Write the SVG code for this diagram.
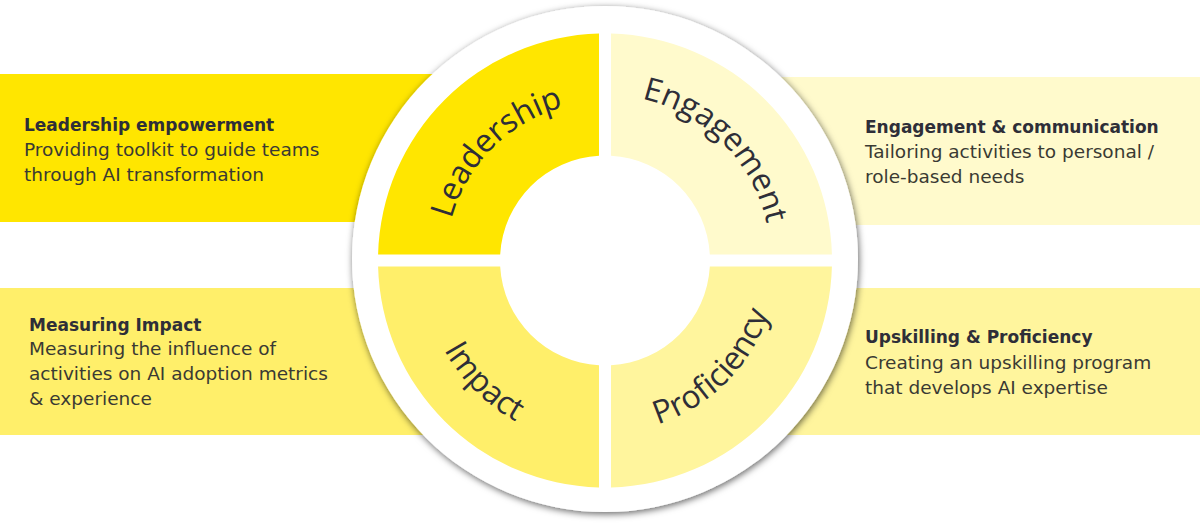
<svg xmlns="http://www.w3.org/2000/svg" width="1200" height="527" viewBox="0 0 1200 527">
  <style>
    .head { font-family: "DejaVu Sans", "Liberation Sans", sans-serif; font-weight: bold; font-size: 17px; fill: #2e2e38; }
    .body { font-family: "DejaVu Sans", "Liberation Sans", sans-serif; font-size: 18.5px; fill: #3a3a33; }
    .ring { font-family: "Open Sans", "Noto Sans", sans-serif; font-size: 32px; fill: #2e2e38; }
    .c1 { fill: #FFE600; }
    .c2 { fill: #FFFACC; }
    .c3 { fill: #FFEF6A; }
    .c4 { fill: #FFF59D; }
  </style>
  <defs>
    <filter id="shadow" x="-10%" y="-10%" width="120%" height="120%">
      <feDropShadow dx="1" dy="2" stdDeviation="3.5" flood-color="#000" flood-opacity="0.6"/>
    </filter>
    <path id="arcLeadership" d="M 446 260.5 A 159 159 0 0 1 605 101.5"/>
    <path id="arcEngagement" d="M 605 94.5 A 166 166 0 0 1 771 260.5"/>
    <path id="arcImpact" d="M 421 260.5 A 184 184 0 0 0 605 444.5"/>
    <path id="arcProficiency" d="M 605 432.5 A 172 172 0 0 0 777 260.5"/>
  </defs>

  <rect width="1200" height="527" fill="#ffffff"/>

  <!-- side cards -->
  <g id="card-leadership">
    <rect class="c1" x="0" y="74" width="500" height="148"/>
    <text class="head" x="24" y="131">Leadership empowerment</text>
    <text class="body" x="24" y="156">Providing toolkit to guide teams</text>
    <text class="body" x="24" y="181">through AI transformation</text>
  </g>
  <g id="card-engagement">
    <rect class="c2" x="700" y="77" width="500" height="148"/>
    <text class="head" x="865" y="133">Engagement &amp; communication</text>
    <text class="body" x="865" y="158">Tailoring activities to personal /</text>
    <text class="body" x="865" y="183">role-based needs</text>
  </g>
  <g id="card-impact">
    <rect class="c3" x="0" y="288" width="500" height="147"/>
    <text class="head" x="29" y="331">Measuring Impact</text>
    <text class="body" x="29" y="355">Measuring the influence of</text>
    <text class="body" x="29" y="380">activities on AI adoption metrics</text>
    <text class="body" x="29" y="405">&amp; experience</text>
  </g>
  <g id="card-proficiency">
    <rect class="c4" x="700" y="288" width="500" height="147"/>
    <text class="head" x="865" y="343">Upskilling &amp; Proficiency</text>
    <text class="body" x="865" y="369">Creating an upskilling program</text>
    <text class="body" x="865" y="394">that develops AI expertise</text>
  </g>

  <!-- central wheel -->
  <circle id="wheel-base" cx="605" cy="259" r="253" fill="#ffffff" filter="url(#shadow)"/>

  <g id="quadrant-leadership">
    <path class="c1" d="M 599 33.58 A 227 227 0 0 0 378.08 254.5 L 500.17 254.5 A 105 105 0 0 1 599 155.67 Z"/>
    <text class="ring"><textPath href="#arcLeadership" startOffset="50%" text-anchor="middle">Leadership</textPath></text>
  </g>
  <g id="quadrant-engagement">
    <path class="c2" d="M 611 33.58 A 227 227 0 0 1 831.92 254.5 L 709.83 254.5 A 105 105 0 0 0 611 155.67 Z"/>
    <text class="ring"><textPath href="#arcEngagement" startOffset="50%" text-anchor="middle">Engagement</textPath></text>
  </g>
  <g id="quadrant-impact">
    <path class="c3" d="M 378.08 266.5 A 227 227 0 0 0 599 487.42 L 599 365.33 A 105 105 0 0 1 500.17 266.5 Z"/>
    <text class="ring"><textPath href="#arcImpact" startOffset="50%" text-anchor="middle">Impact</textPath></text>
  </g>
  <g id="quadrant-proficiency">
    <path class="c4" d="M 611 487.42 A 227 227 0 0 0 831.92 266.5 L 709.83 266.5 A 105 105 0 0 1 611 365.33 Z"/>
    <text class="ring"><textPath href="#arcProficiency" startOffset="50%" text-anchor="middle">Proficiency</textPath></text>
  </g>
</svg>
